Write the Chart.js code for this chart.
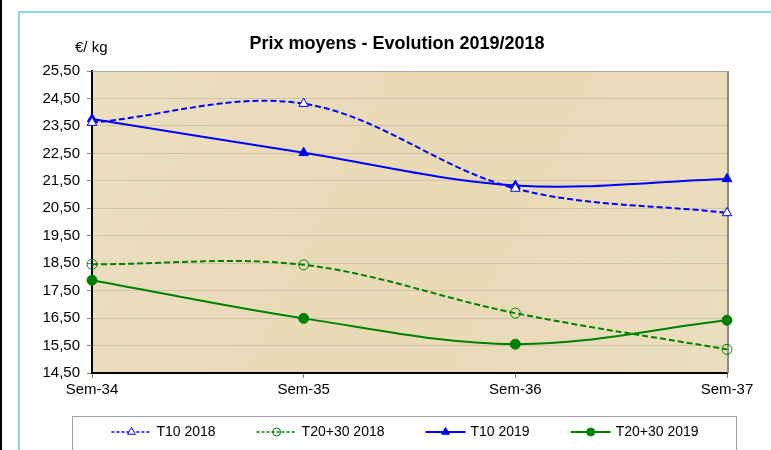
<!DOCTYPE html>
<html>
<head>
<meta charset="utf-8">
<script src="https://cdn.jsdelivr.net/npm/chart.js@4.4.1/dist/chart.umd.min.js"></script>
<style>
  html, body { margin: 0; padding: 0; background: #fff; }
  body { width: 771px; height: 450px; position: relative; overflow: hidden; }
  #edge { position: absolute; left: 0; top: 0; width: 2px; height: 450px; background: #000; }
  #frame { position: absolute; left: 18px; top: 11px; width: 800px; height: 500px; border: 2px solid #8fd3f0; }
  #wrap { position: absolute; left: 0; top: 0; width: 771px; height: 450px; }
</style>
</head>
<body>
<div id="edge"></div>
<div id="frame"></div>
<div id="wrap"><canvas id="c"></canvas></div>
<script>
const weeks = ["Sem-34", "Sem-35", "Sem-36", "Sem-37"];
const t10_2018 = [23.62, 24.31, 21.22, 20.33];
const t2030_2018 = [18.46, 18.44, 16.68, 15.36];
const t10_2019 = [23.75, 22.52, 21.33, 21.57];
const t2030_2019 = [17.88, 16.49, 15.55, 16.42];
const yTicks = [14.5, 15.5, 16.5, 17.5, 18.5, 19.5, 20.5, 21.5, 22.5, 23.5, 24.5, 25.5];

const FONT = "'Liberation Sans', Arial, sans-serif";
const BLUE = "#0000ff";
const GREEN = "#008000";

Chart.defaults.font.family = FONT;
Chart.defaults.color = "#000";

function marker(ctx, style, x, y, r, fill, stroke, lw) {
  ctx.beginPath();
  if (style === "triangle") {
    ctx.moveTo(x, y - r);
    ctx.lineTo(x + r * 0.866, y + r * 0.5);
    ctx.lineTo(x - r * 0.866, y + r * 0.5);
    ctx.closePath();
  } else {
    ctx.arc(x, y, r, 0, Math.PI * 2);
  }
  if (fill && fill !== "transparent") { ctx.fillStyle = fill; ctx.fill(); }
  ctx.lineWidth = lw;
  ctx.strokeStyle = stroke;
  ctx.stroke();
}

// plot background, frame, title, unit and the Excel-like legend
const decor = {
  id: "decor",
  beforeDraw(chart) {
    const { ctx, chartArea: a } = chart;
    ctx.save();
    const g = ctx.createLinearGradient(a.left, a.top, a.right, a.bottom);
    g.addColorStop(0, "#ecdfc0");
    g.addColorStop(0.5, "#e8dab6");
    g.addColorStop(1, "#ebdebe");
    ctx.fillStyle = g;
    ctx.fillRect(a.left, a.top, a.right - a.left, a.bottom - a.top);
    ctx.restore();
  },
  beforeDatasetsDraw(chart) {
    const { ctx, chartArea: a } = chart;
    ctx.save();
    ctx.strokeStyle = "#a8a8a8";
    ctx.lineWidth = 1;
    ctx.beginPath();
    ctx.moveTo(a.left, a.top + 0.5);
    ctx.lineTo(a.right, a.top + 0.5);
    ctx.stroke();
    ctx.strokeStyle = "#8c8c8c";
    ctx.lineWidth = 2;
    ctx.beginPath();
    ctx.moveTo(a.right + 1, a.top);
    ctx.lineTo(a.right + 1, a.bottom);
    ctx.stroke();
    ctx.restore();
  },
  afterDraw(chart) {
    const { ctx } = chart;
    ctx.save();
    ctx.fillStyle = "#000";
    ctx.textBaseline = "middle";
    ctx.textAlign = "center";
    ctx.font = "bold 18px " + FONT;
    ctx.fillText("Prix moyens - Evolution 2019/2018", 397, 44);
    ctx.textAlign = "left";
    ctx.font = "15px " + FONT;
    ctx.fillText("€/ kg", 75, 48);

    // legend box
    ctx.strokeStyle = "#a0a0a0";
    ctx.lineWidth = 1;
    ctx.strokeRect(72.5, 416.5, 664, 60);
    ctx.font = "14px " + FONT;
    const ds = chart.data.datasets;
    const widths = ds.map((d) => ctx.measureText(d.label).width);
    const gap = 41, lead = 45;
    const total = widths.reduce((s, w) => s + w + lead, 0) + gap * (ds.length - 1);
    let x = 405 - total / 2;
    const y = 432;
    ds.forEach((d, i) => {
      ctx.strokeStyle = d.borderColor;
      ctx.lineWidth = d.borderDash ? 1.5 : 2;
      ctx.setLineDash(d.borderDash ? [3, 2] : []);
      ctx.beginPath();
      ctx.moveTo(x, y);
      ctx.lineTo(x + 40, y);
      ctx.stroke();
      ctx.setLineDash([]);
      marker(ctx, d.pointStyle, x + 20, y, d.pointStyle === "triangle" ? 4.5 : 4,
        d.pointBackgroundColor, d.borderColor, 1);
      ctx.fillStyle = "#000";
      ctx.fillText(d.label, x + lead, y);
      x += lead + widths[i] + gap;
    });
    ctx.restore();
  },
};

const line = (label, data, color, dashed, style, fill) => ({
  label, data,
  borderColor: color,
  borderWidth: 2,
  borderDash: dashed ? [6, 3] : undefined,
  tension: 0.35,
  pointStyle: style,
  pointRadius: style === "triangle" ? 5.5 : 5,
  pointBorderWidth: 1,
  pointBorderColor: color,
  pointBackgroundColor: fill,
  fill: false,
});

new Chart(document.getElementById("c"), {
  type: "line",
  data: {
    labels: weeks,
    datasets: [
      line("T10 2018", t10_2018, BLUE, true, "triangle", "#ffffff"),
      line("T20+30 2018", t2030_2018, GREEN, true, "circle", "transparent"),
      line("T10 2019", t10_2019, BLUE, false, "triangle", BLUE),
      line("T20+30 2019", t2030_2019, GREEN, false, "circle", GREEN),
    ],
  },
  options: {
    responsive: true,
    maintainAspectRatio: false,
    animation: false,
    layout: { padding: { left: 0, right: 44, top: 71, bottom: 47 } },
    plugins: { legend: { display: false }, title: { display: false }, tooltip: { enabled: false } },
    scales: {
      x: {
        offset: false,
        grid: { drawOnChartArea: false, tickLength: 5, tickColor: "#808080" },
        border: { color: "#000", width: 2 },
        ticks: { color: "#000", font: { size: 15 }, padding: 3, maxRotation: 0, autoSkip: false },
        afterFit(s) { s.height = 30; },
      },
      y: {
        min: 14.5,
        max: 25.5,
        afterBuildTicks(s) { s.ticks = yTicks.map((v) => ({ value: v })); },
        grid: { color: "rgba(120,120,120,0.22)", tickLength: 5, tickColor: "#808080" },
        border: { color: "#000", width: 2 },
        ticks: { color: "#000", font: { size: 15 }, padding: 7, callback: (v) => v.toFixed(2).replace(".", ",") },
        afterFit(s) { s.width = 92; },
      },
    },
  },
  plugins: [decor],
});
</script>
</body>
</html>
